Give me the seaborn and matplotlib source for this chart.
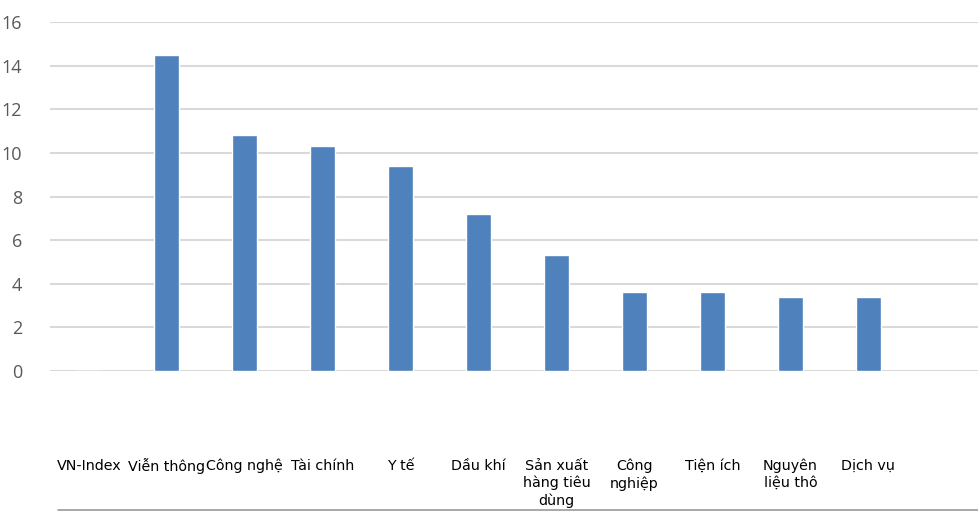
import pandas as pd
import matplotlib.pyplot as plt
import seaborn as sns
from matplotlib.lines import Line2D

categories = ["VN-Index", "Viễn thông", "Công nghệ", "Tài chính", "Y tế", "Dầu khí",
              "Sản xuất\nhàng tiêu\ndùng", "Công\nnghiệp", "Tiện ích", "Nguyên\nliệu thô", "Dịch vụ"]
values = [0, 14.5, 10.8, 10.3, 9.4, 7.2, 5.3, 3.6, 3.6, 3.4, 3.4]
yticks = [0, 2, 4, 6, 8, 10, 12, 14, 16]

df = pd.DataFrame({"nganh": categories, "gia_tri": values})

sns.set_style("white")
plt.rcParams['font.family'] = ['DejaVu Sans']

fig = plt.figure(figsize=(9.79, 5.12), dpi=100)
ax = fig.add_axes([50 / 979, 141 / 512, 929 / 979, 349 / 512])

sns.barplot(data=df, x="nganh", y="gia_tri", color="#4f81bd", saturation=1,
            width=0.32, ax=ax, zorder=3)

ax.set_ylim(0, 16)
ax.set_xlim(-0.5, 11.42)
ax.set_yticks(yticks)
ax.set_yticklabels([str(t) for t in yticks], fontsize=13, color="#595959", family="Open Sans")
for t in yticks:
    ax.axhline(t, color="#d9d9d9", lw=1.5, zorder=1)

ax.tick_params(axis="x", length=0, pad=63, labelsize=10.3, labelcolor="#000000")
for lbl in ax.get_xticklabels():
    lbl.set_linespacing(1.3)
ax.tick_params(axis="y", length=0, pad=20)
ax.set_xlabel("")
ax.set_ylabel("")
for s in ax.spines.values():
    s.set_visible(False)

# duong ke duoi
fig.add_artist(Line2D([58 / 979, 1.0], [2 / 512, 2 / 512], color="#9a9a9a", lw=1.2))

plt.savefig("out.png", dpi=100)
